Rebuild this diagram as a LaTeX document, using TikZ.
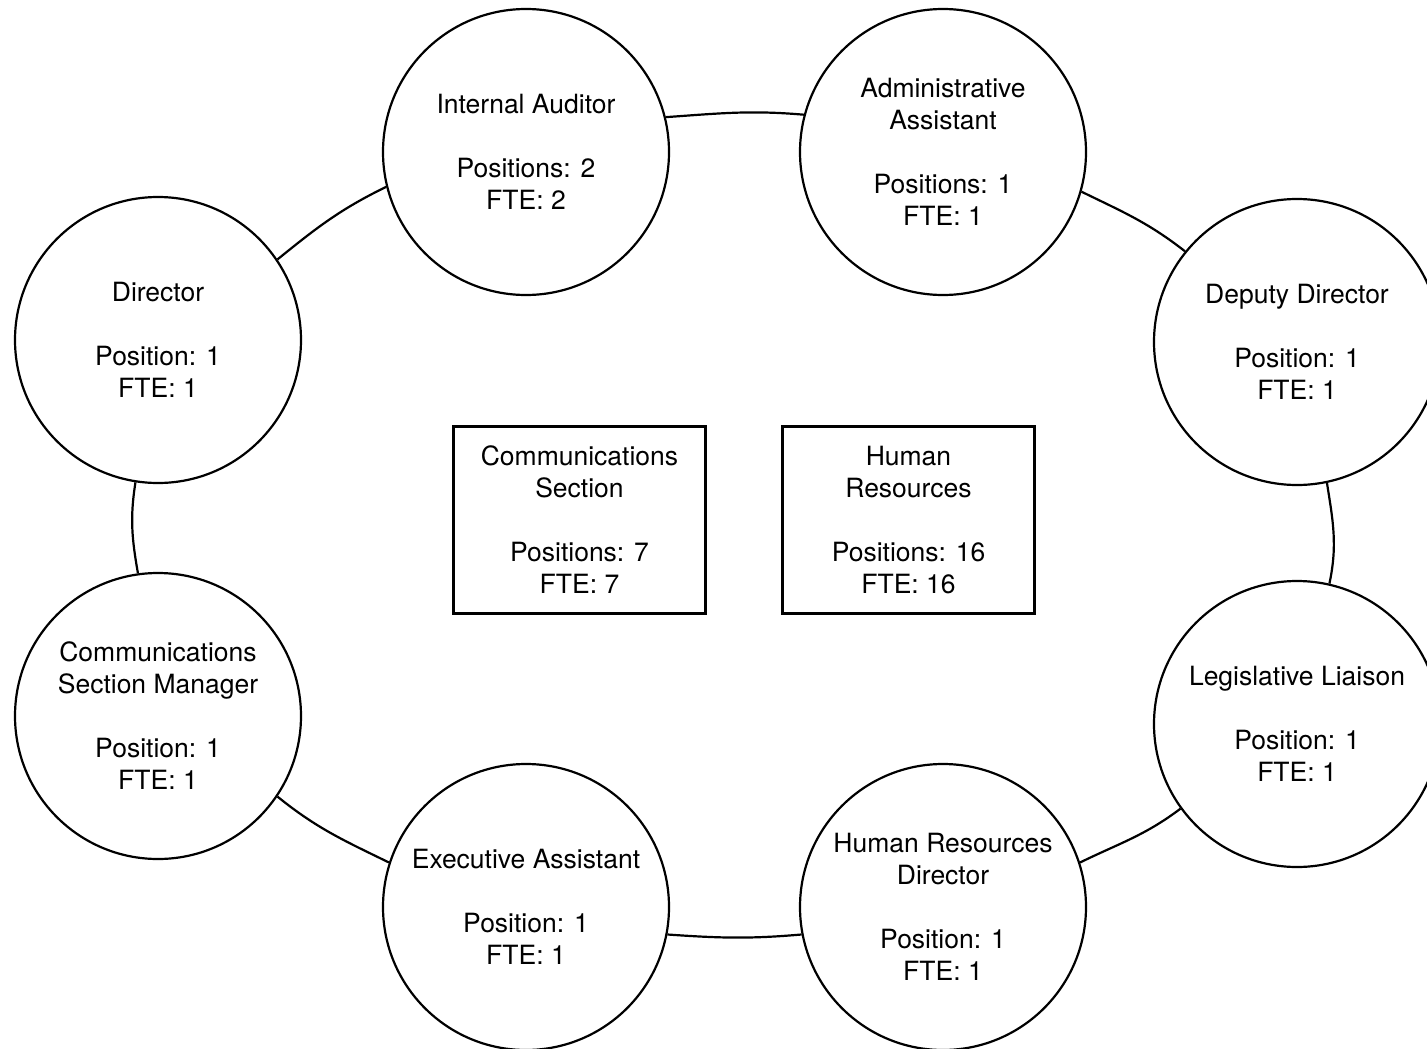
\documentclass[tikz,border=0pt]{standalone}
\usepackage{fontspec}
\setmainfont{TeX Gyre Heros}
\begin{document}
\begin{tikzpicture}[x=1pt,y=1pt,
  txt/.style={font=\fontsize{26.5}{32}\selectfont, align=center, text=black},
  role/.style={txt, circle, draw=black, line width=2.2pt, fill=white,
               minimum size=286pt, inner sep=0pt},
  unit/.style={txt, rectangle, draw=black, line width=2.2pt, fill=white,
               minimum width=252pt, minimum height=187pt, inner sep=0pt},
  ring/.style={draw=black, line width=2.2pt}]
\useasboundingbox (0,0) rectangle (1427,-1049);
\fill[white] (0,0) rectangle (1427,-1049);

% role circles around the ring
\node[role] (dir)  at (158,-340) {Director\\[32pt]Position: 1\\FTE: 1};
\node[role] (ia)   at (526,-152) {Internal Auditor\\[32pt]Positions: 2\\FTE: 2};
\node[role] (aa)   at (943,-152) {Administrative\\Assistant\\[32pt]Positions: 1\\FTE: 1};
\node[role] (dd)   at (1297,-342) {Deputy Director\\[32pt]Position: 1\\FTE: 1};
\node[role] (ll)   at (1297,-724) {Legislative Liaison\\[32pt]Position: 1\\FTE: 1};
\node[role] (hrd)  at (943,-907) {Human Resources\\Director\\[32pt]Position: 1\\FTE: 1};
\node[role] (ea)   at (526,-907) {Executive Assistant\\[32pt]Position: 1\\FTE: 1};
\node[role] (csm)  at (158,-716) {Communications\\Section Manager\\[32pt]Position: 1\\FTE: 1};

% sections in the middle
\node[unit] (cs) at (579.5,-520) {Communications\\Section\\[32pt]Positions: 7\\FTE: 7};
\node[unit] (hr) at (908.5,-520) {Human\\Resources\\[32pt]Positions: 16\\FTE: 16};

% ring connectors
\draw[ring] (dir.34.6)  to[out=39,  in=206]  (ia.194.6);
\draw[ring] (ia.14)     to[out=4,   in=175]  (aa.165.6);
\draw[ring] (aa.-16.3)  to[out=-26, in=142]  (dd.141.9);
\draw[ring] (dd.-78)    to[out=-81, in=78]   (ll.77.8);
\draw[ring] (ll.216.6)  to[out=217, in=26]   (hrd.18.2);
\draw[ring] (hrd.191.7) to[out=185, in=-4]   (ea.-11.5);
\draw[ring] (ea.162.3)  to[out=154, in=-39]  (csm.-34.2);
\draw[ring] (csm.98.5)  to[out=100, in=261]  (dir.261.6);
\end{tikzpicture}
\end{document}
